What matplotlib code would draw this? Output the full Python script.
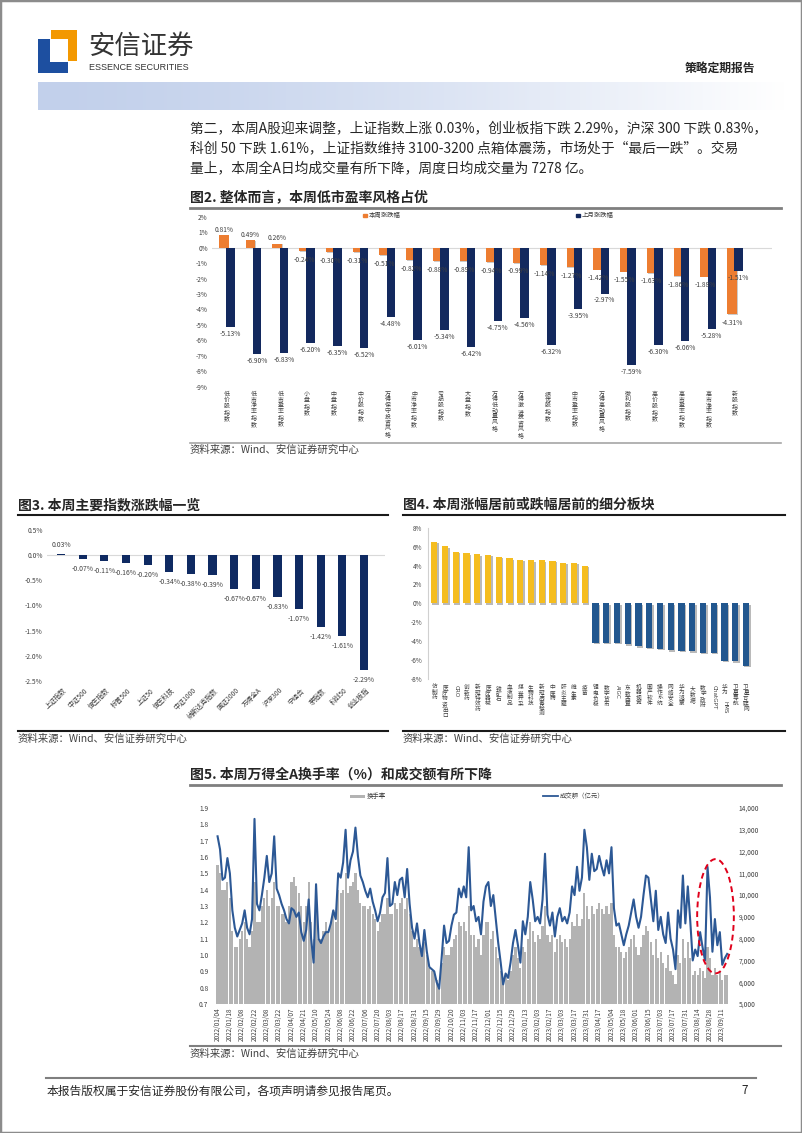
import matplotlib
matplotlib.use('Agg')
import matplotlib.pyplot as plt
from matplotlib.patches import Rectangle, Ellipse
from matplotlib.lines import Line2D
import matplotlib.patheffects as pe
import matplotlib.transforms as mtransforms
import numpy as np

plt.rcParams['font.family'] = ['Noto Sans CJK SC', 'DejaVu Sans']
plt.rcParams['axes.unicode_minus'] = False

# ---------------- data ----------------
body_lines = [
    "第二，本周A股迎来调整，上证指数上涨 0.03%，创业板指下跌 2.29%，沪深 300 下跌 0.83%，",
    "科创 50 下跌 1.61%，上证指数维持 3100-3200 点箱体震荡，市场处于“最后一跌”。交易",
    "量上，本周全A日均成交量有所下降，周度日均成交量为 7278 亿。",
]

# Fig 2
style_names = ["低价股指数", "低市净率指数", "低市盈率指数", "小盘指数", "中盘指数", "中价股指数",
               "万得保守投资风格", "中市净率指数", "亏损股指数", "大盘指数", "万得低动量风格",
               "万得激进投资风格", "绩优股指数", "中市盈率指数", "万得高动量风格", "微利股指数",
               "高价股指数", "高市盈率指数", "高市净率指数", "新股指数"]
style_week = [0.81, 0.49, 0.26, -0.24, -0.30, -0.31, -0.51, -0.82, -0.88, -0.89, -0.94, -0.99,
              -1.14, -1.27, -1.42, -1.55, -1.63, -1.86, -1.88, -4.31]
style_month = [-5.13, -6.90, -6.83, -6.20, -6.35, -6.52, -4.48, -6.01, -5.34, -6.42, -4.75, -4.56,
               -6.32, -3.95, -2.97, -7.59, -6.30, -6.06, -5.28, -1.51]
style_legend = ["本周涨跌幅", "上月涨跌幅"]

# Fig 3
index_names = ["上证指数", "中证500", "恒生指数", "标普500", "上证50", "恒生科技", "中证1000",
               "纳斯达克指数", "国证2000", "万得全A", "沪深300", "宁组合", "茅指数", "科创50", "创业板指"]
index_chg = [0.03, -0.07, -0.11, -0.16, -0.20, -0.34, -0.38, -0.39, -0.67, -0.67, -0.83, -1.07,
             -1.42, -1.61, -2.29]

# Fig 4
sector_names = ["仿制药", "医疗物资出口", "CRO", "创新药", "新冠特效药", "医疗器械", "铁矿石", "血液制品",
                "煤炭开采", "生物科技", "新冠病毒检测", "中医药", "肝炎主题", "维生素", "疫苗",
                "锂电负极", "数字货币", "AIGC", "东数西算", "机器视觉", "国产软件", "操作系统", "网络安全",
                "华为鸿蒙", "大数据", "数字政府", "ChatGPT", "华为HMS", "卫星导航", "卫星互联网"]
sector_chg = [6.50, 6.05, 5.45, 5.28, 5.20, 5.15, 4.92, 4.75, 4.58, 4.56, 4.56, 4.50, 4.30, 4.28, 3.98,
              -4.15, -4.18, -4.20, -4.32, -4.55, -4.72, -4.83, -4.95, -5.05, -5.07, -5.22, -5.25,
              -6.05, -6.12, -6.58]

# Fig 5 (sampled every 2 trading days; one row per 10-trading-day tick interval)
volume = [
    12700, 12100, 10700, 10800, 11700,
    11000, 9300, 8500, 8100, 8400,
    8700, 9300, 8500, 8200, 8900,
    13500, 9600, 9300, 10000, 10800,
    11800, 10600, 11000, 12700, 10300,
    10000, 9600, 9300, 8900, 8700,
    9400, 9300, 9000, 9200, 8300,
    7900, 8400, 9800, 8000, 6900,
    10500, 8000, 7800, 8100, 8300,
    8300, 8700, 9300, 8900, 11000,
    10800, 11500, 13000, 10800, 11600,
    12000, 13100, 11800, 10900, 10600,
    10200, 9900, 10300, 9700, 9300,
    8800, 9200, 9900, 10100, 11700,
    9500, 9600, 10600, 10000, 10700,
    10800, 9900, 11200, 9600, 8500,
    8000, 8700, 7800, 7200, 8400,
    7400, 6700, 6600, 6500, 6000,
    5700, 7100, 8600, 7800, 7900,
    8600, 9100, 9200, 10300, 9900,
    10400, 9900, 12200, 9300, 9500,
    8800, 9000, 8200, 9700, 10400,
    10600, 9500, 10000, 8900, 7800,
    6900, 5900, 6400, 6200, 6900,
    7800, 8400, 7700, 6900, 8800,
    8200, 9000, 10600, 9800, 8800,
    9000, 8700, 9800, 11900, 9100,
    8600, 9200, 8100, 9000, 9400,
    8800, 9000, 8700, 9200, 10400,
    10000, 11300, 10200, 10800, 13000,
    12200, 10700, 11900, 11100, 11200,
    11800, 11300, 10900, 11600, 11000,
    12200, 9400, 8600, 8700, 8200,
    7700, 8200, 8600, 9200, 9800,
    9000, 8500, 9000, 10000, 10900,
    10800, 9800, 8800, 10200, 8400,
    9000, 8200, 7800, 9200, 8000,
    7500, 6600, 9300, 8500, 10900,
    8700, 10400, 8800, 7000, 7500,
    7200, 8300, 7600, 7000, 11300,
    9900, 7400, 8900, 7700, 8300,
    6800, 7100, 7300,
]
turnover = [
    1.55, 1.50, 1.40, 1.40, 1.45,
    1.35, 1.15, 1.05, 1.05, 1.10,
    1.15, 1.20, 1.10, 1.05, 1.15,
    1.45, 1.20, 1.20, 1.30, 1.35,
    1.40, 1.30, 1.35, 1.45, 1.30,
    1.30, 1.25, 1.25, 1.20, 1.30,
    1.45, 1.48, 1.42, 1.38, 1.30,
    1.20, 1.30, 1.45, 1.20, 1.10,
    1.30, 1.10, 1.10, 1.15, 1.20,
    1.15, 1.20, 1.25, 1.20, 1.40,
    1.38, 1.40, 1.50, 1.38, 1.42,
    1.45, 1.50, 1.40, 1.32, 1.30,
    1.30, 1.28, 1.30, 1.25, 1.22,
    1.15, 1.20, 1.25, 1.25, 1.35,
    1.25, 1.25, 1.32, 1.28, 1.32,
    1.35, 1.28, 1.35, 1.25, 1.15,
    1.05, 1.10, 1.05, 1.00, 1.08,
    1.00, 0.92, 0.90, 0.90, 0.85,
    0.82, 0.95, 1.05, 1.00, 1.00,
    1.05, 1.10, 1.12, 1.20, 1.18,
    1.20, 1.15, 1.30, 1.12, 1.12,
    1.05, 1.10, 1.00, 1.12, 1.20,
    1.20, 1.10, 1.15, 1.05, 0.98,
    0.90, 0.82, 0.88, 0.85, 0.90,
    1.00, 1.05, 0.98, 0.92, 1.05,
    1.02, 1.10, 1.20, 1.15, 1.08,
    1.12, 1.10, 1.18, 1.30, 1.12,
    1.08, 1.12, 1.02, 1.10, 1.12,
    1.08, 1.10, 1.05, 1.10, 1.20,
    1.18, 1.25, 1.18, 1.22, 1.38,
    1.30, 1.22, 1.30, 1.25, 1.28,
    1.32, 1.28, 1.25, 1.30, 1.25,
    1.32, 1.12, 1.05, 1.05, 1.02,
    0.98, 1.02, 1.05, 1.10, 1.12,
    1.05, 1.00, 1.05, 1.12, 1.18,
    1.15, 1.08, 1.00, 1.10, 0.98,
    1.02, 0.95, 0.92, 1.00, 0.90,
    0.88, 0.82, 1.00, 0.95, 1.10,
    0.98, 1.08, 0.98, 0.88, 0.90,
    0.88, 0.92, 0.90, 0.86, 1.05,
    0.98, 0.88, 0.92, 0.88, 0.90,
    0.85, 0.88, 0.88,
]
date_labels = ["2022/01/04", "2022/01/18", "2022/02/08", "2022/02/22", "2022/03/08", "2022/03/22",
               "2022/04/07", "2022/04/21", "2022/05/10", "2022/05/24", "2022/06/08", "2022/06/22",
               "2022/07/06", "2022/07/20", "2022/08/03", "2022/08/17", "2022/08/31", "2022/09/15",
               "2022/09/29", "2022/10/20", "2022/11/03", "2022/11/17", "2022/12/01", "2022/12/15",
               "2022/12/29", "2023/01/13", "2023/02/03", "2023/02/17", "2023/03/03", "2023/03/17",
               "2023/03/31", "2023/04/17", "2023/05/04", "2023/05/18", "2023/06/01", "2023/06/15",
               "2023/07/03", "2023/07/17", "2023/07/31", "2023/08/14", "2023/08/28", "2023/09/11"]
fig5_legend = ["换手率", "成交额（亿元）"]

source_text = "资料来源：Wind、安信证券研究中心"

# ---------------- helpers ----------------
W, H = 802, 1133
fig = plt.figure(figsize=(W / 100, H / 100), dpi=100)


def px_rect(x0, y0, x1, y1):
    return [x0 / W, 1 - y1 / H, (x1 - x0) / W, (y1 - y0) / H]


def ftext(x, y, s, **kw):
    return fig.text(x / W, 1 - y / H, s, **kw)


def hline(x0, x1, y, color, lw):
    fig.add_artist(Line2D([x0 / W, x1 / W], [1 - y / H, 1 - y / H], color=color, lw=lw))


GRAY = '#404040'
TXT = '#262626'


def vlabel(ax, x, text, off, fs, color=GRAY, ls=1.05):
    """Stacked vertical label: CJK characters upright one per line, Latin runs rotated."""
    trans = mtransforms.blended_transform_factory(ax.transData, ax.transAxes)
    runs = []
    for ch in text:
        latin = ord(ch) < 128
        if runs and runs[-1][1] == latin:
            runs[-1][0] += ch
        else:
            runs.append([ch, latin])
    for s, latin in runs:
        t = mtransforms.offset_copy(trans, fig=fig, x=0, y=-off, units='points')
        if latin:
            ax.text(x, 0, s, transform=t, rotation=-90, ha='center', va='top', fontsize=fs,
                    color=color, clip_on=False, family=['DejaVu Sans'])
            off += len(s) * fs * 0.66 + 0.6
        else:
            ax.text(x, 0, '\n'.join(s), transform=t, ha='center', va='top', fontsize=fs,
                    color=color, clip_on=False, linespacing=ls, multialignment='center')
            off += len(s) * fs * 1.36 * ls


# ---------------- page frame & header ----------------
fig.add_artist(Rectangle((0, 0), 1, 1, transform=fig.transFigure, fill=False,
                         edgecolor='#8c8c8c', lw=2.5))

logo = fig.add_axes(px_rect(38, 30, 77, 73))
logo.set_xlim(38, 77)
logo.set_ylim(73, 30)
logo.axis('off')
logo.add_patch(Rectangle((51, 30), 26, 9, color='#F39800', lw=0))
logo.add_patch(Rectangle((68, 30), 9, 31, color='#F39800', lw=0))
logo.add_patch(Rectangle((38, 39), 12.5, 34, color='#1D4FA0', lw=0))
logo.add_patch(Rectangle((38, 62), 30, 11, color='#1D4FA0', lw=0))

ftext(88, 46, "安信证券", fontsize=19, color='#333333', va='center', ha='left', weight='medium')
ftext(89, 67.5, "ESSENCE SECURITIES", fontsize=6.5, color='#333333', va='center', ha='left',
      family=['Liberation Sans', 'DejaVu Sans'])
ftext(755, 68, "策略定期报告", fontsize=8.5, weight='bold', color=TXT, va='center', ha='right')

band = fig.add_axes(px_rect(38, 82, 785, 110))
band.axis('off')
grad = np.linspace(0, 1, 256)
c0 = np.array([194, 208, 235]) / 255.0
cols = c0[None, :] * (1 - grad[:, None] ** 1.4) + np.ones(3)[None, :] * (grad[:, None] ** 1.4)
band.imshow(cols[None, :, :], aspect='auto', extent=(0, 1, 0, 1))

for k, line in enumerate(body_lines):
    ftext(190, 128 + 20 * k, line, fontsize=9.9, color=TXT, va='center', ha='left')

# ---------------- Fig 2 ----------------
ftext(190, 197, "图2. 整体而言，本周低市盈率风格占优", fontsize=10, weight='bold', color=TXT,
      va='center', ha='left')
hline(190, 781, 208, '#7f7f7f', 2)

ax2 = fig.add_axes(px_rect(212, 216.7, 772, 386.7))
n2 = len(style_names)
x2 = np.arange(n2)
ax2.bar(x2 - 0.12, style_week, width=0.36, color='#ED7D31', zorder=2,
        path_effects=[pe.SimplePatchShadow(offset=(0.6, -0.6), shadow_rgbFace='#999999', alpha=0.5),
                      pe.Normal()])
ax2.bar(x2 + 0.13, style_month, width=0.32, color='#13295E', zorder=3)
ax2.axhline(0, color='#d9d9d9', lw=0.8, zorder=1)
ax2.set_ylim(-9, 2)
ax2.set_xlim(-0.56, 20.38)
ax2.set_yticks(np.arange(-9, 3, 1))
ax2.set_yticklabels([f"{v}%" for v in range(-9, 3)])
ax2.tick_params(axis='y', length=0, pad=3, labelsize=4.7, labelcolor=GRAY)
ax2.set_xticks([])
for s in ax2.spines.values():
    s.set_visible(False)
ax2.patch.set_alpha(0)
for i, (w, m) in enumerate(zip(style_week, style_month)):
    wy = w + 0.35 if w > 0 else w - 0.55
    ax2.text(i - 0.12, wy, f"{w:.2f}%", fontsize=4.8, color=GRAY, ha='center', va='center', zorder=4)
    ax2.text(i + 0.13, m - 0.45, f"{m:.2f}%", fontsize=4.8, color=GRAY, ha='center', va='center',
             zorder=4)
for i, name in enumerate(style_names):
    vlabel(ax2, i, name, 3.6, 4.3, ls=1.12)
# legend
ax2.add_patch(Rectangle((0.27, 1.0), 0.0065, 0.018, transform=ax2.transAxes, color='#ED7D31',
                        clip_on=False))
ax2.text(0.28, 1.009, style_legend[0], transform=ax2.transAxes, fontsize=4.6, color=GRAY,
         va='center', ha='left')
ax2.add_patch(Rectangle((0.65, 1.0), 0.0065, 0.018, transform=ax2.transAxes, color='#13295E',
                        clip_on=False))
ax2.text(0.66, 1.009, style_legend[1], transform=ax2.transAxes, fontsize=4.6, color=GRAY,
         va='center', ha='left')

hline(190, 781, 443, '#a6a6a6', 1.2)
ftext(190, 450, source_text, fontsize=7.5, color=GRAY, va='center', ha='left')

# ---------------- Fig 3 ----------------
ftext(18, 505, "图3. 本周主要指数涨跌幅一览", fontsize=10, weight='bold', color=TXT,
      va='center', ha='left')
hline(18, 388, 514.5, '#1a1a1a', 1.5)

ax3 = fig.add_axes(px_rect(47, 530, 385, 681))
x3 = np.arange(len(index_names))
ax3.bar(x3, index_chg, width=0.38, color='#0F2A62', zorder=2)
ax3.axhline(0, color='#d9d9d9', lw=0.8, zorder=1)
ax3.set_ylim(-2.5, 0.5)
ax3.set_xlim(-0.65, 14.97)
ax3.set_yticks(np.arange(-2.5, 0.51, 0.5))
ax3.set_yticklabels([f"{v:.1f}%" for v in np.arange(-2.5, 0.51, 0.5)])
ax3.tick_params(axis='y', length=0, pad=3, labelsize=4.8, labelcolor=GRAY)
ax3.set_xticks([])
for s in ax3.spines.values():
    s.set_visible(False)
ax3.patch.set_alpha(0)
for i, v in enumerate(index_chg):
    ly = v + 0.17 if v > 0 else v - 0.2
    ax3.text(i, ly, f"{v:.2f}%", fontsize=4.9, color=GRAY, ha='center', va='center')
tr3 = mtransforms.offset_copy(
    mtransforms.blended_transform_factory(ax3.transData, ax3.transAxes), fig=fig, x=0, y=-6,
    units='points')
for i, name in enumerate(index_names):
    ax3.text(i + 0.2, 0, name, transform=tr3, rotation=45, ha='right', va='center',
             rotation_mode='anchor', fontsize=4.8, color=GRAY, clip_on=False)

hline(18, 388, 731, '#1a1a1a', 1.5)
ftext(18, 739, source_text, fontsize=7.5, color=GRAY, va='center', ha='left')

# ---------------- Fig 4 ----------------
ftext(403, 505, "图4. 本周涨幅居前或跌幅居前的细分板块", fontsize=10, weight='bold', color=TXT,
      va='center', ha='left')
hline(403, 785, 514.5, '#1a1a1a', 1.5)

ax4 = fig.add_axes(px_rect(428, 527.7, 760, 679))
x4 = np.arange(len(sector_names))
cols4 = ['#F5BD1F' if v > 0 else '#22578F' for v in sector_chg]
ax4.bar(x4, sector_chg, width=0.59, color=cols4, zorder=2,
        path_effects=[pe.SimplePatchShadow(offset=(1.0, -1.0), shadow_rgbFace='#8c8c8c', alpha=0.6),
                      pe.Normal()])
ax4.set_ylim(-8, 8)
ax4.set_xlim(-0.58, 30.3)
ax4.set_yticks(np.arange(-8, 9, 2))
ax4.set_yticklabels([f"{v}%" for v in range(-8, 9, 2)])
ax4.tick_params(axis='y', length=0, pad=4, labelsize=4.6, labelcolor=GRAY)
ax4.set_xticks([])
for k, s in ax4.spines.items():
    s.set_visible(k == 'left')
ax4.spines['left'].set_color('#d0d0d0')
ax4.spines['left'].set_linewidth(0.8)
ax4.patch.set_alpha(0)
for i, name in enumerate(sector_names):
    vlabel(ax4, i, name, 4.3, 4.1)

hline(403, 785, 731, '#1a1a1a', 1.5)
ftext(403, 739, source_text, fontsize=7.5, color=GRAY, va='center', ha='left')

# ---------------- Fig 5 ----------------
ftext(190, 775, "图5. 本周万得全A换手率（%）和成交额有所下降", fontsize=10, weight='bold', color=TXT,
      va='center', ha='left')
hline(190, 781, 785, '#7f7f7f', 2)

ax5 = fig.add_axes(px_rect(214, 808, 732, 1004))
days = np.arange(len(turnover)) * 2
ax5.bar(days, turnover, width=1.75, color='#B3B3B3', lw=0, zorder=1)
ax5.set_ylim(0.7, 1.9)
ax5.set_xlim(-2.9, 417.9)
ax5.set_yticks(np.arange(0.7, 1.91, 0.1))
ax5.set_yticklabels([f"{v:.1f}" for v in np.arange(0.7, 1.91, 0.1)])
ax5.tick_params(axis='y', length=0, pad=4, labelsize=4.8, labelcolor=GRAY)
tick_days = np.arange(len(date_labels)) * 10
ax5.set_xticks(tick_days)
ax5.set_xticklabels(date_labels, rotation=90, fontsize=4.6, color=GRAY)
ax5.tick_params(axis='x', length=0, pad=2.5)
for s in ax5.spines.values():
    s.set_visible(False)
ax5.patch.set_alpha(0)

ax5r = ax5.twinx()
ax5r.plot(days, volume, color='#2C5895', lw=1.5, zorder=3)
ax5r.set_ylim(5000, 14000)
ax5r.set_xlim(-2.9, 417.9)
ax5r.set_yticks(np.arange(5000, 14001, 1000))
ax5r.set_yticklabels([f"{v:,}" for v in range(5000, 14001, 1000)])
ax5r.tick_params(axis='y', length=0, pad=5, labelsize=4.8, labelcolor=GRAY)
for s in ax5r.spines.values():
    s.set_visible(False)
ax5r.add_patch(Ellipse((404.5, 9030), 29.8, 5245, fill=False, edgecolor='#E0001B', lw=1.4,
                       ls=(0, (3, 2)), clip_on=False, zorder=4))

# legend
fig.add_artist(Rectangle((350 / W, 1 - 798 / H), 15 / W, 3.5 / H, transform=fig.transFigure,
                         color='#B3B3B3', lw=0))
ftext(367, 796, fig5_legend[0], fontsize=4.6, color=GRAY, va='center', ha='left')
fig.add_artist(Line2D([543 / W, 558 / W], [1 - 796 / H, 1 - 796 / H], color='#2C5895', lw=1.3))
ftext(560, 796, fig5_legend[1], fontsize=4.6, color=GRAY, va='center', ha='left')

hline(190, 781, 1046, '#7f7f7f', 1.5)
ftext(190, 1054, source_text, fontsize=7.5, color=GRAY, va='center', ha='left')

# ---------------- footer ----------------
hline(46, 756, 1078, '#7f7f7f', 1.5)
ftext(47, 1091, "本报告版权属于安信证券股份有限公司，各项声明请参见报告尾页。", fontsize=8.5, color=TXT,
      va='center', ha='left')
ftext(748, 1091, "7", fontsize=8.5, color=TXT, va='center', ha='right')

fig.savefig('out.png', dpi=100)
